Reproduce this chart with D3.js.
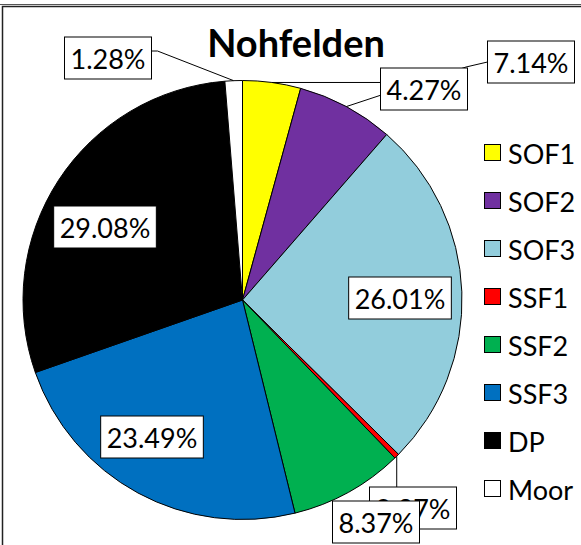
<!DOCTYPE html>
<html><head><meta charset="utf-8">
<script src="https://cdn.jsdelivr.net/npm/d3@7"></script>
<style>html,body{margin:0;padding:0;background:#fff;}svg{display:block;}</style>
</head><body>
<svg id="c" width="581" height="545"></svg>
<script>
const categories = ["SOF1","SOF2","SOF3","SSF1","SSF2","SSF3","DP","Moor"];
const values = [4.27, 7.14, 26.01, 0.37, 8.37, 23.49, 29.08, 1.28];
const colors = ["#FFFF00","#7030A0","#92CDDC","#FF0000","#00B050","#0070C0","#000000","#FFFFFF"];
const title = "Nohfelden";

// label layout (centers of label boxes) and leader elbow points
const labelPos = {
  SOF1:{x:424,y:89,lead:"left"},
  SOF2:{x:531,y:62,lead:"left",elbow:[466,67]},
  SOF3:{x:400,y:298},
  SSF1:{x:413,y:508,lead:"top"},
  SSF2:{x:376,y:522},
  SSF3:{x:152,y:437},
  DP:{x:105,y:227},
  Moor:{x:108,y:58,lead:"right"}
};
const labelOrder = ["Moor","SOF2","SOF1","DP","SOF3","SSF3","SSF1","SSF2"];

const svg = d3.select("#c");
const font = "Lato, 'Open Sans', sans-serif";

// frame
svg.append("line").attr("x1",0).attr("x2",581).attr("y1",4.5).attr("y2",4.5).attr("stroke","#555").attr("stroke-width",1);
svg.append("path").attr("d","M2.5,560 V6.5 H590").attr("fill","none").attr("stroke","#222").attr("stroke-width",1.5);

const cx = 242.5, cy = 300, R = 219.5;
const g = svg.append("g").attr("transform",`translate(${cx},${cy})`);
const data = categories.map((c,i)=>({cat:c,v:values[i],col:colors[i]}));
const pie = d3.pie().value(d=>d.v).sort(null);
const arcs = pie(data);
const arc = d3.arc().innerRadius(0).outerRadius(R);
g.selectAll("path.s").data(arcs).join("path").attr("class","s")
  .attr("d",arc).attr("fill",d=>d.data.col).attr("stroke","#000").attr("stroke-width",1).attr("stroke-linejoin","round");

// title
svg.append("text").attr("x",296).attr("y",57).attr("text-anchor","middle")
  .attr("font-family",font).attr("font-weight","bold").attr("font-size",38).text(title);

// labels
const lg = svg.append("g");
const byCat = {}; arcs.forEach(a=>byCat[a.data.cat]=a);
const fmt = v => v.toFixed(2)+"%";
labelOrder.forEach(cat=>{
  const a = byCat[cat], p = labelPos[cat];
  const mid = (a.startAngle+a.endAngle)/2;
  const ax = cx + R*Math.sin(mid), ay = cy - R*Math.cos(mid);
  const grp = lg.append("g");
  const t = grp.append("text").attr("x",p.x).attr("y",p.y).attr("text-anchor","middle")
    .attr("dominant-baseline","central").attr("font-family",font).attr("font-size",27).text(fmt(a.data.v));
  const bb = t.node().getBBox();
  const w = bb.width + 12, h = 42;
  const bx = p.x - w/2, by = p.y - h/2;
  if (p.lead) {
    let pts;
    if (p.lead==="left") {
      const ex = bx, ey = p.elbow ? p.y : ay;
      pts = p.elbow ? [[ax,ay],p.elbow,[ex,ey]] : [[ax,ay],[ex,ay]];
    } else if (p.lead==="right") {
      pts = [[ax,ay],[bx+w+6,p.y-7],[bx+w,p.y-7]];
    } else {
      pts = [[ax,ay],[ax,by]];
    }
    grp.insert("path","text").attr("d",d3.line()(pts)).attr("fill","none").attr("stroke","#000").attr("stroke-width",1);
  }
  grp.insert("rect","text").attr("x",bx).attr("y",by).attr("width",w).attr("height",h)
    .attr("fill","#fff").attr("stroke","#000").attr("stroke-width",1);
});

// legend
const leg = svg.append("g");
data.forEach((d,i)=>{
  const y = 153 + i*48;
  leg.append("rect").attr("x",484.5).attr("y",y-8.5).attr("width",16).attr("height",16)
    .attr("fill",d.col).attr("stroke","#000").attr("stroke-width",1);
  leg.append("text").attr("x",508).attr("y",y).attr("dominant-baseline","central")
    .attr("font-family",font).attr("font-size",27).text(d.cat);
});
</script>
</body></html>
